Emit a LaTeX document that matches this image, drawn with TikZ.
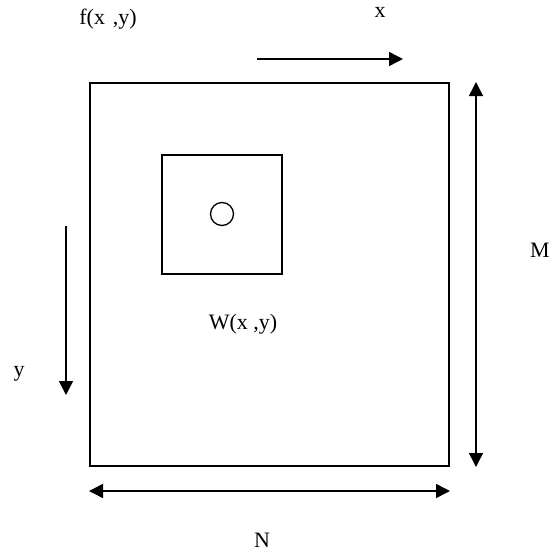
\documentclass[tikz,border=0pt]{standalone}
\usepackage{fontspec}
\setmainfont{Liberation Serif}
\usetikzlibrary{arrows.meta}
\begin{document}
\begin{tikzpicture}[x=1pt,y=-1pt,
  box/.style={draw,line width=1.5pt},
  arr/.style={line width=1.5pt,-{Triangle[length=14pt,width=14pt]}},
  darr/.style={line width=1.5pt,{Triangle[length=14pt,width=14pt]}-{Triangle[length=14pt,width=14pt]}},
  lbl/.style={font=\fontsize{22}{26}\selectfont,inner sep=0pt}]
\useasboundingbox (0,0) rectangle (550,555);
\draw[box] (90,83) rectangle (449,466);
\draw[box] (162,155) rectangle (282,274);
\draw[line width=1.3pt] (222,214) circle (11.5);
\node[lbl] (f) at (108,19) {f(x\hspace{0.35em},y)};
\node[lbl] (xl) at (380,12) {x};
\coordinate (xa) at (257,59);
\coordinate (xb) at (403,59);
\draw[arr] (xa) -- (xb);
\coordinate (ya) at (66,226);
\coordinate (yb) at (66,395);
\draw[arr] (ya) -- (yb);
\node[lbl] (yl) at (19,374) {y};
\coordinate (ma) at (476,82);
\coordinate (mb) at (476,467);
\draw[darr] (ma) -- (mb);
\node[lbl] (ml) at (540,250) {M};
\coordinate (na) at (89,491);
\coordinate (nb) at (450,491);
\draw[darr] (na) -- (nb);
\node[lbl] (nl) at (262,540) {N};
\node[lbl] (w) at (243,324) {W(x ,y)};
\end{tikzpicture}
\end{document}
